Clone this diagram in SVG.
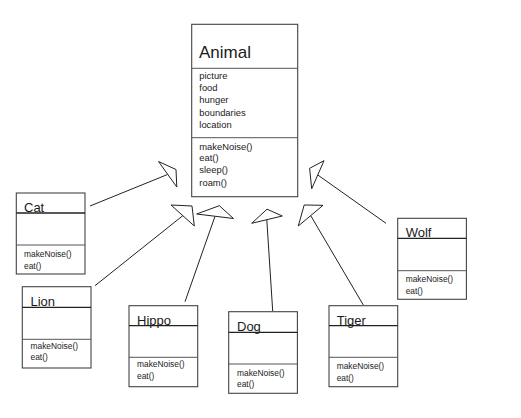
<svg xmlns="http://www.w3.org/2000/svg" width="521" height="418" viewBox="0 0 521 418">
<style>
.box{fill:#fff;stroke:#444;stroke-width:1.1}
.div{stroke:#555;stroke-width:1}
.tdiv{stroke:#222;stroke-width:1.3}
.t{font-family:"Liberation Sans",Arial,sans-serif;fill:#1a1a1a}
.big{font-size:17px}
.title{font-size:13px}
.attr{font-size:9.4px}
.m{font-size:8.4px}
.edge{stroke:#222;stroke-width:1;fill:none}
.head{stroke:#222;stroke-width:1;fill:#fff;stroke-linejoin:miter}
</style>
<rect width="521" height="418" fill="#fff"/>
<g id="connectors">
  <line class="edge" x1="90" y1="206" x2="167.5" y2="174.5"/>
  <polygon class="head" points="176,169.5 158.5,161.5 176.8,187"/>
  <line class="edge" x1="95" y1="285.7" x2="183" y2="215.5"/>
  <polygon class="head" points="192,206 171,205 194.3,226"/>
  <line class="edge" x1="185" y1="301.7" x2="215" y2="216.3"/>
  <polygon class="head" points="219.3,205.7 196.7,214 233.5,218.5"/>
  <line class="edge" x1="272.7" y1="311" x2="266.8" y2="219.8"/>
  <polygon class="head" points="267,209.2 251.7,223.3 282.3,216"/>
  <line class="edge" x1="363.3" y1="305" x2="310.8" y2="215.8"/>
  <polygon class="head" points="304.2,205 323,205.3 298.3,226"/>
  <line class="edge" x1="386" y1="223.3" x2="317.8" y2="175"/>
  <polygon class="head" points="309.6,168.3 324,160.7 311.7,188.8"/>
</g>
<g id="animal">
  <rect class="box" x="191.7" y="24.3" width="106" height="172.4"/>
  <line class="div" x1="191.7" y1="68.3" x2="297.7" y2="68.3"/>
  <line class="div" x1="191.7" y1="137.7" x2="297.7" y2="137.7"/>
  <text class="t big" x="199" y="58.3">Animal</text>
  <text class="t attr" x="199.3" y="79">picture</text>
  <text class="t attr" x="199.3" y="91">food</text>
  <text class="t attr" x="199.3" y="103.3">hunger</text>
  <text class="t attr" x="199.3" y="116">boundaries</text>
  <text class="t attr" x="199.3" y="128.3">location</text>
  <text class="t attr" x="199.3" y="150">makeNoise()</text>
  <text class="t attr" x="199.3" y="161.3">eat()</text>
  <text class="t attr" x="199.3" y="173.3">sleep()</text>
  <text class="t attr" x="199.3" y="185.7">roam()</text>
</g>
<g id="cat">
  <rect class="box" x="16.3" y="193" width="68.7" height="81"/>
  <line class="tdiv" x1="16.3" y1="213" x2="85" y2="213"/>
  <line class="div" x1="16.3" y1="245" x2="85" y2="245"/>
  <text class="t title" x="24" y="212">Cat</text>
  <text class="t m" x="24" y="257">makeNoise()</text>
  <text class="t m" x="24" y="268.5">eat()</text>
</g>
<g id="lion">
  <rect class="box" x="22.3" y="286.7" width="68.7" height="81.3"/>
  <line class="tdiv" x1="22.3" y1="307.3" x2="91" y2="307.3"/>
  <line class="div" x1="22.3" y1="339.3" x2="91" y2="339.3"/>
  <text class="t title" x="30.5" y="306.3">Lion</text>
  <text class="t m" x="30.5" y="348.5">makeNoise()</text>
  <text class="t m" x="30.5" y="359.7">eat()</text>
</g>
<g id="hippo">
  <rect class="box" x="129" y="305.7" width="68.7" height="81"/>
  <line class="tdiv" x1="129" y1="325.7" x2="197.7" y2="325.7"/>
  <line class="div" x1="129" y1="357.3" x2="197.7" y2="357.3"/>
  <text class="t title" x="137" y="324.7">Hippo</text>
  <text class="t m" x="137" y="367">makeNoise()</text>
  <text class="t m" x="137" y="378.5">eat()</text>
</g>
<g id="dog">
  <rect class="box" x="228.7" y="311.7" width="68.7" height="81.6"/>
  <line class="tdiv" x1="228.7" y1="332.3" x2="297.4" y2="332.3"/>
  <line class="div" x1="228.7" y1="364" x2="297.4" y2="364"/>
  <text class="t title" x="237" y="331.3">Dog</text>
  <text class="t m" x="237" y="375.7">makeNoise()</text>
  <text class="t m" x="237" y="387">eat()</text>
</g>
<g id="tiger">
  <rect class="box" x="329" y="305.7" width="68.7" height="81"/>
  <line class="tdiv" x1="329" y1="325.7" x2="397.7" y2="325.7"/>
  <line class="div" x1="329" y1="357.3" x2="397.7" y2="357.3"/>
  <text class="t title" x="336.7" y="324.7">Tiger</text>
  <text class="t m" x="336.7" y="369.3">makeNoise()</text>
  <text class="t m" x="336.7" y="381.3">eat()</text>
</g>
<g id="wolf">
  <rect class="box" x="397.7" y="218.3" width="68.7" height="81"/>
  <line class="tdiv" x1="397.7" y1="238.3" x2="466.4" y2="238.3"/>
  <line class="div" x1="397.7" y1="270.7" x2="466.4" y2="270.7"/>
  <text class="t title" x="405.7" y="237.3">Wolf</text>
  <text class="t m" x="405.7" y="282.3">makeNoise()</text>
  <text class="t m" x="405.7" y="294">eat()</text>
</g>
</svg>
